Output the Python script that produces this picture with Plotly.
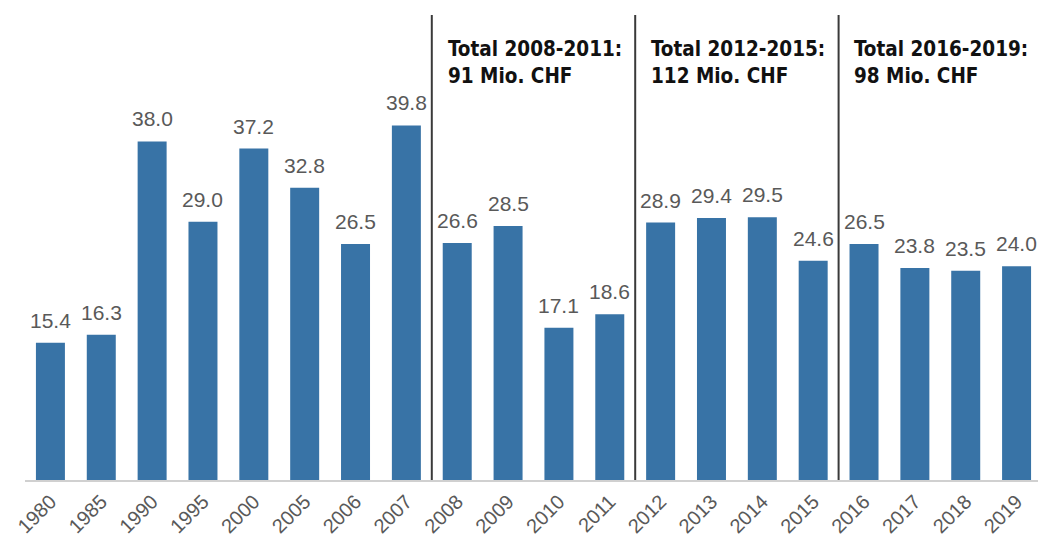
import plotly.graph_objects as go

years = ["1980", "1985", "1990", "1995", "2000", "2005", "2006", "2007", "2008", "2009",
         "2010", "2011", "2012", "2013", "2014", "2015", "2016", "2017", "2018", "2019"]
values = [15.4, 16.3, 38.0, 29.0, 37.2, 32.8, 26.5, 39.8, 26.6, 28.5,
          17.1, 18.6, 28.9, 29.4, 29.5, 24.6, 26.5, 23.8, 23.5, 24.0]
separators = [7.5, 11.5, 15.5]
totals = ["<b>Total 2008-2011:</b><br><b>91 Mio. CHF</b>",
          "<b>Total 2012-2015:</b><br><b>112 Mio. CHF</b>",
          "<b>Total 2016-2019:</b><br><b>98 Mio. CHF</b>"]

xs = list(range(len(years)))

fig = go.Figure(go.Bar(
    x=xs, y=values,
    marker=dict(color="#3873a6", line=dict(width=0)),
))

for i, v in zip(xs, values):
    fig.add_annotation(x=i, y=v, xref="x", yref="y", text=f"{v:.1f}",
                       showarrow=False, yanchor="bottom", yshift=9,
                       font=dict(size=21, color="#595959",
                                 family="Liberation Sans, Arial, sans-serif"))

for s in separators:
    fig.add_shape(type="line", xref="x", yref="paper", x0=s, x1=s, y0=0, y1=1,
                  line=dict(color="#3a3a3a", width=2))

for s, t in zip(separators, totals):
    fig.add_annotation(xref="x", yref="paper", x=s + 0.27, y=0.958, text=t,
                       showarrow=False, xanchor="left", yanchor="top", align="left",
                       font=dict(size=20.5, color="#111111",
                                 family="Liberation Sans Narrow, DejaVu Sans Condensed, sans-serif"))

fig.update_layout(
    width=1034, height=529,
    margin=dict(l=17, r=0, t=7, b=55),
    paper_bgcolor="white", plot_bgcolor="white",
    bargap=0.43, showlegend=False,
    xaxis=dict(tickmode="array", tickvals=xs, ticktext=years,
               tickangle=-45, range=[-0.5, len(years) - 0.5],
               showline=True, linecolor="#d0d0d0", linewidth=2,
               showgrid=False, zeroline=False, ticks="",
               tickfont=dict(size=20, color="#595959", family="Liberation Sans, Arial, sans-serif")),
    yaxis=dict(range=[0, 52.2], visible=False, showgrid=False, zeroline=False),
)

fig.write_html("out.html")
